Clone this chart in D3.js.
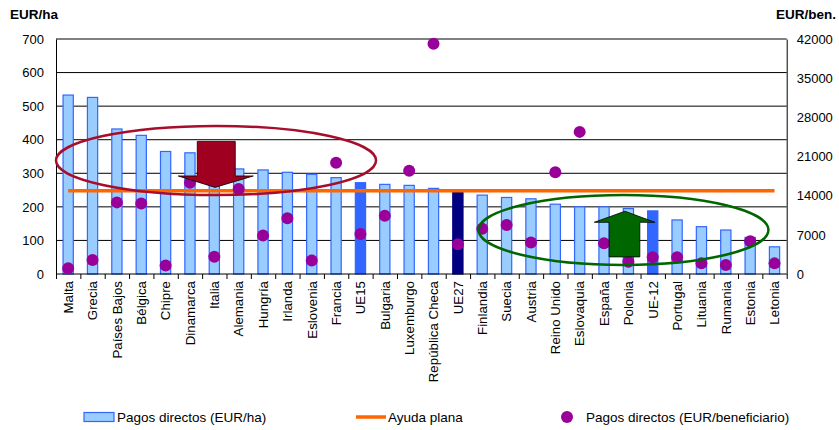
<!DOCTYPE html>
<html>
<head>
<meta charset="utf-8">
<script src="https://cdn.jsdelivr.net/npm/d3@7"></script>
<style>
  body { margin: 0; background: #fff; }
  text { font-family: "Liberation Sans", Arial, sans-serif; fill: #000; }
</style>
</head>
<body>
<div id="chart"></div>
<script>
// data
var countries = ["Malta", "Grecia", "Países Bajos", "Bélgica", "Chipre", "Dinamarca", "Italia", "Alemania",
  "Hungría", "Irlanda", "Eslovenia", "Francia", "UE15", "Bulgaria", "Luxemburgo", "República Checa", "UE27",
  "Finlandia", "Suecia", "Austria", "Reino Unido", "Eslovaquia", "España", "Polonia", "UE-12", "Portugal",
  "Lituania", "Rumania", "Estonia", "Letonia"];
var eurHa = [533, 526, 432, 413, 365, 361, 335, 313, 310, 303, 297, 287, 272, 267, 264, 255, 243,
  235, 228, 224, 208, 200, 200, 195, 188, 161, 141, 131, 109, 81];
var eurBen = [1020, 2500, 12800, 12600, 1500, 16300, 3100, 15200, 6900, 9950, 2400, 19900, 7150, 10400,
  18450, 41150, 5300, 8100, 8750, 5650, 18200, 25400, 5500, 2200, 3000, 3000, 1900, 1600, 5850, 1900];
var flatRate = 248;
var leftTicks = [0, 100, 200, 300, 400, 500, 600, 700];
var rightTicks = [0, 7000, 14000, 21000, 28000, 35000, 42000];
var highlight = {"UE15": "mid", "UE-12": "mid", "UE27": "dark"};

var svgWidth = 839, svgHeight = 430;
var plot = {left: 56, right: 786.7, top: 39, bottom: 274};

var svg = d3.select("#chart").append("svg")
  .attr("width", svgWidth).attr("height", svgHeight);

var x = d3.scaleBand().domain(countries).range([plot.left, plot.right]).padding(0);
var xi = d3.scaleLinear().domain([0, countries.length]).range([plot.left, plot.right]);
var y = d3.scaleLinear().domain([0, 700]).range([plot.bottom, plot.top]);
var y2 = d3.scaleLinear().domain([0, 42000]).range([plot.bottom, plot.top]);

// gridlines
svg.append("g").selectAll("line").data(leftTicks.slice(1)).enter().append("line")
  .attr("x1", plot.left).attr("x2", plot.right)
  .attr("y1", d => y(d)).attr("y2", d => y(d))
  .attr("stroke", "#000").attr("stroke-width", 1);

// left axis
var leftAxis = d3.axisLeft(y).tickValues(leftTicks).tickSize(0).tickPadding(12);
var gl = svg.append("g").attr("transform", "translate(" + plot.left + ",0)").call(leftAxis);
gl.select(".domain").attr("stroke", "#000");
gl.selectAll("text").style("font-size", "13px").style("font-family", "Liberation Sans, Arial");

// right axis
var rightAxis = d3.axisRight(y2).tickValues(rightTicks).tickSize(0).tickPadding(10).tickFormat(d3.format("d"));
var gr = svg.append("g").attr("transform", "translate(" + plot.right + ",0)").call(rightAxis);
gr.select(".domain").attr("stroke", "#000");
gr.selectAll("text").style("font-size", "13px").style("font-family", "Liberation Sans, Arial");

// bars
var barW = x.bandwidth() * 0.42;
svg.append("g").selectAll("rect").data(countries).enter().append("rect")
  .attr("x", d => x(d) + (x.bandwidth() - barW) / 2)
  .attr("y", (d, i) => y(eurHa[i]))
  .attr("width", barW)
  .attr("height", (d, i) => y(0) - y(eurHa[i]))
  .attr("fill", d => highlight[d] === "mid" ? "#3366ff" : highlight[d] === "dark" ? "#000080" : "#99ccff")
  .attr("stroke", d => highlight[d] === "dark" ? "#000080" : "#3366ff")
  .attr("stroke-width", 1.2);

// bottom axis
var bottomAxis = d3.axisBottom(xi).tickValues(d3.range(countries.length + 1)).tickSize(5).tickFormat("");
var gb = svg.append("g").attr("transform", "translate(0," + plot.bottom + ")").call(bottomAxis);
gb.select(".domain").attr("stroke", "#000").attr("d", "M" + plot.left + ",0H" + plot.right);
gb.selectAll("line").attr("stroke", "#000");

svg.append("g").selectAll("text").data(countries).enter().append("text")
  .attr("transform", d => "translate(" + (x(d) + x.bandwidth() / 2 + 4.8) + "," + (plot.bottom + 7) + ") rotate(-90)")
  .attr("text-anchor", "end")
  .style("font-size", "13.3px")
  .text(d => d);

// flat rate line
svg.append("line")
  .attr("x1", x(countries[0]) + x.bandwidth() / 2)
  .attr("x2", x(countries[countries.length - 1]) + x.bandwidth() / 2)
  .attr("y1", y(flatRate)).attr("y2", y(flatRate))
  .attr("stroke", "#ff6600").attr("stroke-width", 3.5);

// dots
svg.append("g").selectAll("circle").data(countries).enter().append("circle")
  .attr("cx", d => x(d) + x.bandwidth() / 2)
  .attr("cy", (d, i) => y2(eurBen[i]))
  .attr("r", 6)
  .attr("fill", "#990099");

// annotations: ellipses
svg.append("ellipse")
  .attr("cx", xi(6.57)).attr("cy", y(338))
  .attr("rx", xi(6.57) - xi(0)).attr("ry", y(0) - y(103))
  .attr("fill", "none").attr("stroke", "#a50f2d").attr("stroke-width", 2.5);
svg.append("ellipse")
  .attr("cx", xi(23.3)).attr("cy", y(131))
  .attr("rx", xi(5.95) - xi(0)).attr("ry", y(0) - y(104))
  .attr("fill", "none").attr("stroke", "#006600").attr("stroke-width", 2.5);

// annotations: arrows
var line = d3.line().x(d => xi(d[0])).y(d => y(d[1]));
var downArrow = [[5.8, 395], [7.36, 395], [7.36, 292], [8.1, 292], [6.53, 258], [5.02, 292], [5.8, 292]];
svg.append("path").attr("d", line(downArrow) + "Z")
  .attr("fill", "#a00020").attr("stroke", "#000").attr("stroke-width", 0.8);
var upArrow = [[22.71, 51], [23.97, 51], [23.97, 154], [24.59, 154], [23.36, 187], [22.1, 154], [22.71, 154]];
svg.append("path").attr("d", line(upArrow) + "Z")
  .attr("fill", "#006600").attr("stroke", "#000").attr("stroke-width", 0.8);

// axis titles
svg.append("text").attr("x", 10).attr("y", 19).attr("font-weight", "bold").style("font-size", "13.5px").text("EUR/ha");
svg.append("text").attr("x", 836).attr("y", 19).attr("text-anchor", "end").attr("font-weight", "bold").style("font-size", "13.5px").text("EUR/ben.");

// legend
var ly = 417;
var leg = svg.append("g").style("font-size", "13.5px");
leg.append("rect").attr("x", 84).attr("y", ly - 4.5).attr("width", 30).attr("height", 9)
  .attr("fill", "#99ccff").attr("stroke", "#3366ff").attr("stroke-width", 1.2);
leg.append("text").attr("x", 117).attr("y", ly + 4.5).text("Pagos directos (EUR/ha)");
leg.append("line").attr("x1", 356).attr("x2", 386).attr("y1", ly).attr("y2", ly)
  .attr("stroke", "#ff6600").attr("stroke-width", 3.5);
leg.append("text").attr("x", 388).attr("y", ly + 4.5).text("Ayuda plana");
leg.append("circle").attr("cx", 567).attr("cy", ly).attr("r", 6).attr("fill", "#990099");
leg.append("text").attr("x", 586).attr("y", ly + 4.5).text("Pagos directos (EUR/beneficiario)");
</script>
</body>
</html>
